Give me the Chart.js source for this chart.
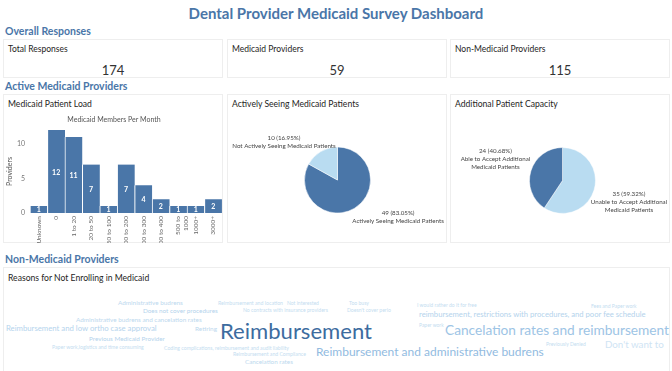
<!DOCTYPE html>
<html>
<head>
<meta charset="utf-8">
<script src="https://cdn.jsdelivr.net/npm/chart.js@4.4.0/dist/chart.umd.min.js"></script>
<style>
  body { margin: 0; width: 672px; height: 371px; overflow: hidden; background: #fff; position: relative; font-family: Lato, sans-serif; color: #252423; }
  .title { position: absolute; left: 0; top: 3px; width: 672px; text-align: center; font-size: 15px; line-height: 20px; font-weight: bold; color: #4a76a8; }
  .section { position: absolute; left: 5px; font-size: 10.5px; line-height: 14px; font-weight: bold; color: #4a76a8; }
  .card { position: absolute; border: 1px solid #eeeeee; box-sizing: border-box; background: #fff; }
  .card .label { position: absolute; left: 4px; top: 3px; font-size: 8.5px; line-height: 12px; white-space: nowrap; }
  .card .value { position: absolute; left: 0; right: 0; top: 22px; text-align: center; font-size: 13px; line-height: 16px; color: #333; }
  .card .head { position: absolute; left: 4px; top: 3px; font-size: 8.6px; line-height: 13px; white-space: nowrap; }
  canvas { position: absolute; }
  .word { position: absolute; white-space: nowrap; }
</style>
</head>
<body>
<div class="title">Dental Provider Medicaid Survey Dashboard</div>

<div class="section" style="top:24px">Overall Responses</div>
<div id="summary"></div>

<div class="section" style="top:79px">Active Medicaid Providers</div>
<div class="card" style="left:3px;top:94px;width:220px;height:149px"><div class="head">Medicaid Patient Load</div></div>
<div class="card" style="left:227px;top:94px;width:220px;height:149px"><div class="head">Actively Seeing Medicaid Patients</div></div>
<div class="card" style="left:450px;top:94px;width:220px;height:149px"><div class="head">Additional Patient Capacity</div></div>
<canvas id="loadChart" style="left:4px;top:112px" width="220" height="131"></canvas>
<canvas id="activeChart" style="left:227px;top:112px" width="220" height="130"></canvas>
<canvas id="capacityChart" style="left:450px;top:112px" width="220" height="130"></canvas>

<div class="section" style="top:252px">Non-Medicaid Providers</div>
<div class="card" style="left:3px;top:267px;width:667px;height:110px"><div class="head" style="top:4px">Reasons for Not Enrolling in Medicaid</div></div>
<div id="cloud"></div>

<script>
// Summary cards
const summaryLabels = ['Total Responses', 'Medicaid Providers', 'Non-Medicaid Providers'];
const summaryValues = [174, 59, 115];

// Medicaid patient load
const memberBins = ['Unknown', '0', '1 to 20', '20 to 50', '50 to 100', '100 to 200', '200 to 300', '300 to 400', ['500 to', '1000'], '1000+', '3000+'];
const providerCounts = [1, 12, 11, 7, 1, 7, 4, 2, 1, 1, 2];
const yTicks = [0, 5, 10];

// Pies
const activeLabels = [['Actively Seeing Medicaid Patients'], ['Not Actively Seeing Medicaid Patients']];
const activeCounts = [49, 10];
const capacityLabels = [['Unable to Accept Additional', 'Medicaid Patients'], ['Able to Accept Additional', 'Medicaid Patients']];
const capacityCounts = [35, 24];

// Word cloud
const reasons = [
  'Administrative budrens', 'Does not cover procedures', 'Reimbursement and location', 'Not interested',
  'No contracts with insurance providers', 'Administrative budrens and cancelation rates',
  'Reimbursement and low ortho case approval', 'Retiring', 'Reimbursement', 'Previous Medicaid Provider',
  'Paper work,logistics and time consuming', 'Coding complications, reimbursement and audit liability',
  'Reimbursement and Compliance', 'Cancelation rates', 'Reimbursement and administrative budrens',
  'Too busy', "Doesn't cover perio", 'I would rather do it for free',
  'reimbursement, restrictions with procedures, and poor fee schedule', 'Paper work',
  'Cancelation rates and reimbursement', 'Fees and Paper work', 'Previously Denied', "Don't want to"
];

const DARK = '#4a76a8';
const LIGHT = '#b9dcf1';
const FONT = 'Lato, sans-serif';

// layout of the word cloud: [left, centerY, width, colour]
const cloudLayout = [
  [118, 303, 65, '#bcd8ee'], [143, 311, 75, '#b4d3ec'], [218, 303, 65, '#c4ddf0'], [287, 303, 32, '#c4ddf0'],
  [243, 310, 85, '#c4ddf0'], [76, 320, 126, '#bcd8ee'],
  [6, 329, 151, '#b5d4ed'], [195, 329, 22, '#bcd8ee'], [220, 331, 152, '#3d6c9f'], [89, 339, 76, '#b4d3ec'],
  [52, 347, 92, '#c4ddf0'], [164, 348, 125, '#c4ddf0'],
  [233, 354, 73, '#c4ddf0'], [245, 362, 48, '#bcd8ee'], [316, 352, 228, '#92bbdf'],
  [349, 303, 20, '#c4ddf0'], [347, 310, 44, '#c4ddf0'], [417, 305, 60, '#c4ddf0'],
  [419, 315, 227, '#b4d3ec'], [419, 325, 25, '#c4ddf0'],
  [445, 330, 224, '#9dc4e5'], [591, 306, 46, '#c4ddf0'], [546, 344, 40, '#c4ddf0'], [605, 345, 59, '#cfe4f4']
];

function buildSummary() {
  const box = document.getElementById('summary');
  const lefts = [3, 227, 450];
  summaryLabels.forEach((label, i) => {
    const card = document.createElement('div');
    card.className = 'card';
    card.style.cssText = `left:${lefts[i]}px;top:39px;width:220px;height:39px`;
    card.innerHTML = `<div class="label">${label}</div><div class="value">${summaryValues[i]}</div>`;
    box.appendChild(card);
  });
}

function buildCloud() {
  const box = document.getElementById('cloud');
  const meas = document.createElement('canvas').getContext('2d');
  meas.font = '10px ' + FONT;
  reasons.forEach((text, i) => {
    const [x, y, w, color] = cloudLayout[i];
    const size = 10 * w / meas.measureText(text).width;
    const el = document.createElement('div');
    el.className = 'word';
    el.textContent = text;
    el.style.cssText = `left:${x}px;top:${(y - size * 0.6).toFixed(1)}px;font-size:${size.toFixed(2)}px;line-height:${(size * 1.2).toFixed(2)}px;color:${color}`;
    box.appendChild(el);
  });
}

// white value labels inside the bars
const barValues = {
  id: 'barValues',
  afterDatasetsDraw(chart) {
    const ctx = chart.ctx;
    const meta = chart.getDatasetMeta(0);
    ctx.save();
    ctx.fillStyle = '#fff';
    ctx.font = 'bold 7px ' + FONT;
    ctx.textAlign = 'center';
    ctx.textBaseline = 'middle';
    meta.data.forEach((bar, i) => {
      const y = Math.min((bar.y + bar.base) / 2 + 1, bar.base - 3);
      ctx.fillText(chart.data.datasets[0].data[i], bar.x, y);
    });
    ctx.restore();
  }
};

// outside labels for the pies: "n (pct%)" then category lines
const pieLabels = {
  id: 'pieLabels',
  afterDatasetsDraw(chart, args, opts) {
    const ctx = chart.ctx;
    const data = chart.data.datasets[0].data;
    const total = data.reduce((a, b) => a + b, 0);
    const lh = 8;
    ctx.save();
    ctx.font = '6.2px ' + FONT;
    ctx.fillStyle = '#444';
    ctx.textAlign = 'center';
    ctx.textBaseline = 'middle';
    chart.getDatasetMeta(0).data.forEach((arc, i) => {
      const mid = (arc.startAngle + arc.endAngle) / 2;
      const r = arc.outerRadius + 6;
      const ax = arc.x + Math.cos(mid) * r;
      const ay = arc.y + Math.sin(mid) * r;
      const lines = [`${data[i]} (${(data[i] / total * 100).toFixed(2)}%)`, ...chart.data.labels[i]];
      const w = Math.max(...lines.map(l => ctx.measureText(l).width));
      const nudge = (opts.nudge && opts.nudge[i]) || [0, 0];
      const cx = (Math.cos(mid) >= 0 ? ax + w / 2 : ax - w / 2) + nudge[0];
      const top = (Math.sin(mid) >= 0 ? ay : ay - lines.length * lh) + nudge[1];
      lines.forEach((l, k) => ctx.fillText(l, cx, top + lh * (k + 0.5)));
    });
    ctx.restore();
  }
};

function createLoadChart() {
  new Chart(document.getElementById('loadChart'), {
    type: 'bar',
    data: {
      labels: memberBins,
      datasets: [{
        data: providerCounts,
        backgroundColor: DARK,
        borderColor: '#fff',
        borderWidth: { left: 1, right: 0, top: 0, bottom: 0 },
        borderSkipped: false,
        barPercentage: 1,
        categoryPercentage: 1
      }]
    },
    options: {
      responsive: false,
      animation: false,
      layout: { padding: 0 },
      plugins: {
        legend: { display: false },
        tooltip: { enabled: false },
        title: {
          display: true,
          text: 'Medicaid Members Per Month',
          color: '#555',
          font: { family: FONT, size: 7, weight: 'normal' },
          padding: { top: 3.5, bottom: 6.1 }
        }
      },
      scales: {
        x: {
          grid: { display: false, drawTicks: false },
          border: { display: false },
          ticks: {
            color: '#666',
            font: { family: FONT, size: 6.5 },
            minRotation: 90,
            maxRotation: 90,
            padding: 3,
            autoSkip: false
          },
          afterFit(scale) { scale.height = 30; }
        },
        y: {
          min: 0,
          max: 12,
          grid: { display: false, drawTicks: false },
          border: { display: false },
          afterBuildTicks(scale) { scale.ticks = yTicks.map(v => ({ value: v })); },
          ticks: { color: '#777', font: { family: FONT, size: 7 }, padding: 5 },
          title: { display: true, text: 'Providers', color: '#555', font: { family: FONT, size: 7 }, padding: 2 },
          afterFit(scale) { scale.width = 26; }
        }
      }
    },
    plugins: [barValues]
  });
}

function createPie(id, labels, counts, colors, padding, nudge) {
  new Chart(document.getElementById(id), {
    type: 'pie',
    data: {
      labels: labels,
      datasets: [{ data: counts, backgroundColor: colors, borderColor: '#fff', borderWidth: 0.5 }]
    },
    options: {
      responsive: false,
      animation: false,
      radius: 33,
      layout: { padding: padding },
      plugins: {
        legend: { display: false },
        tooltip: { enabled: false },
        pieLabels: { nudge: nudge }
      }
    },
    plugins: [pieLabels]
  });
}

buildSummary();
buildCloud();
createLoadChart();
createPie('activeChart', activeLabels, activeCounts, [DARK, LIGHT], { left: 1, right: 0, top: 6, bottom: 0 }, [[-5, -5], [18, 4]]);
createPie('capacityChart', capacityLabels, capacityCounts, [LIGHT, DARK], { left: 5, right: 0, top: 7, bottom: 0 }, [[-9, -2], [5, 2]]);
</script>
</body>
</html>
